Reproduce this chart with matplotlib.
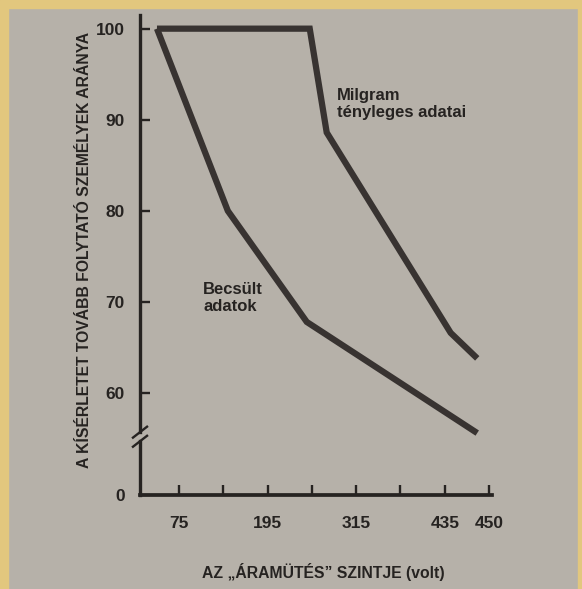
import numpy as np
import matplotlib
matplotlib.use("Agg")
import matplotlib.pyplot as plt
from matplotlib.patches import Rectangle

# tick levels on the voltage axis (evenly spaced on the page, not linear)
volt_ticks = [75, 135, 195, 255, 315, 375, 435, 450]
volt_labels = ["75", "", "195", "", "315", "", "435", "450"]

# Milgram's actual data
milgram_volt = [45, 252, 275, 437, 446]
milgram_pct = [100, 100, 88.6, 66.6, 63.8]

# estimated data
becsult_volt = [45, 141, 248, 446]
becsult_pct = [100, 80, 67.8, 55.6]

pct_ticks = [100, 90, 80, 70, 60]
zero_pos = 48.8     # where "0" sits below the axis break
break_lo, break_hi = 54.7, 55.7

# page position of each voltage level
anchor_volt = [15] + volt_ticks + [465]
anchor_pos = [-1, 0, 1, 2, 3, 4, 5, 6, 7, 8]

def fwd(v):
    return np.interp(v, anchor_volt, anchor_pos)

def inv(p):
    return np.interp(p, anchor_pos, anchor_volt)

page = "#b6b1a9"
ink = "#262321"
line_col = "#383331"

plt.rcParams['font.family'] = ['Liberation Sans', 'DejaVu Sans']
plt.rcParams['font.weight'] = 'bold'

fig = plt.figure(figsize=(5.82, 5.89), dpi=100, facecolor=page)
ax = fig.add_axes([140/582, 1 - 495/589, 352/582, 480/589])
ax.set_facecolor(page)
ax.set_xscale('function', functions=(fwd, inv))

ax.plot(milgram_volt, milgram_pct, color=line_col, lw=4.5,
        solid_joinstyle='miter', solid_capstyle='butt')
ax.plot(becsult_volt, becsult_pct, color=line_col, lw=4.5,
        solid_joinstyle='miter', solid_capstyle='butt')

ax.set_xlim(22, 451)
ax.set_ylim(zero_pos, 101.5)

ax.set_xticks(volt_ticks)
ax.set_xticklabels(volt_labels)
ax.set_yticks(pct_ticks + [zero_pos])
ax.set_yticklabels([str(p) for p in pct_ticks] + ["0"])
ax.minorticks_off()
ax.tick_params(axis='x', direction='in', length=7, width=1.7, color=ink,
               pad=15, labelsize=12.5, labelcolor=ink)
ax.tick_params(axis='y', direction='in', length=7, width=1.7, color=ink,
               pad=11, labelsize=12.5, labelcolor=ink)

for s in ['top', 'right', 'left']:
    ax.spines[s].set_visible(False)
ax.spines['bottom'].set_linewidth(2.7)
ax.spines['bottom'].set_color(ink)

# broken y axis drawn by hand
ytr = ax.get_yaxis_transform()
ax.plot([0, 0], [zero_pos, break_lo], color=ink, lw=2.4, transform=ytr, clip_on=False,
        solid_capstyle='projecting')
ax.plot([0, 0], [break_hi, 101.5], color=ink, lw=2.4, transform=ytr, clip_on=False)
for yb in [break_lo, break_hi]:
    ax.plot([-0.02, 0.02], [yb - 0.6, yb + 0.6], color=ink, lw=1.7,
            transform=ytr, clip_on=False)

ax.text(inv(3.56), 93.5, "Milgram\ntényleges adatai", fontsize=12, color=ink,
        va='top', ha='left', linespacing=1.2)
ax.text(inv(0.54), 72.2, "Becsült\nadatok", fontsize=12, color=ink,
        va='top', ha='left', linespacing=1.2)

fig.text(85/582, 1 - 250/589, "A KÍSÉRLETET TOVÁBB FOLYTATÓ SZEMÉLYEK ARÁNYA",
         rotation=90, ha='center', va='center', fontsize=11.3, color=ink)
fig.text(323/582, 1 - 572/589, "AZ \u201eÁRAMÜTÉS\u201d SZINTJE (volt)",
         ha='center', va='center', fontsize=11.3, color=ink)

# yellow frame around the photographed page
frame = "#e2c77e"
fig.patches.append(Rectangle((0, 0), 8/582, 1, transform=fig.transFigure,
                             color=frame, zorder=-1))
fig.patches.append(Rectangle((0, 1 - 8/589), 1, 8/589, transform=fig.transFigure,
                             color=frame, zorder=-1))
fig.patches.append(Rectangle((1 - 4/582, 0), 4/582, 1, transform=fig.transFigure,
                             color=frame, zorder=-1))

fig.savefig("out.png", dpi=100, facecolor=page)
